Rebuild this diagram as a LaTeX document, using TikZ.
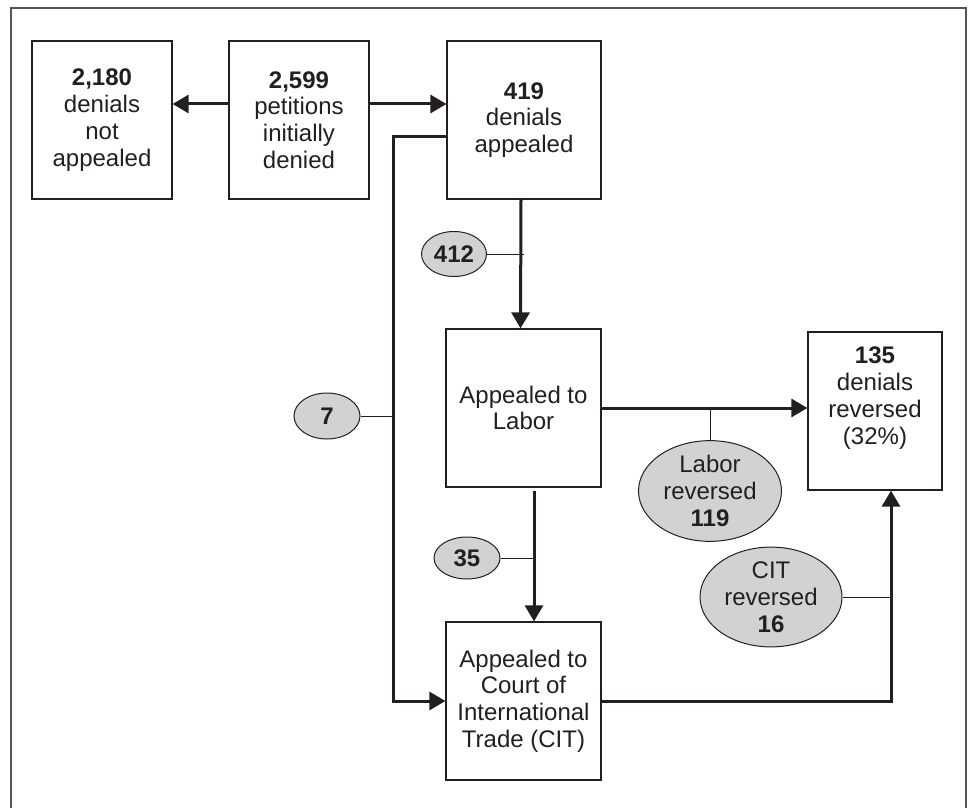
\documentclass[tikz,border=0pt]{standalone}
\usepackage{fontspec}
\setmainfont{Liberation Sans}
\usetikzlibrary{arrows.meta,shapes.geometric,calc}
\definecolor{ink}{HTML}{231F20}
\definecolor{bubble}{HTML}{D1D2D4}
\definecolor{framec}{HTML}{555555}
\begin{document}
\begin{tikzpicture}[x=1pt,y=-1pt,
  every node/.style={text=ink, font=\fontsize{24}{26.8}\selectfont},
  box/.style={draw=ink, line width=1.2pt, align=center, inner sep=0pt, fill=white},
  bub/.style={ellipse, draw=ink, line width=1pt, fill=bubble, align=center, inner sep=0pt},
  arr/.style={draw=ink, line width=3pt, -{Triangle[length=16pt,width=18pt]}},
  stem/.style={draw=ink, line width=1pt}]
\useasboundingbox (0,0) rectangle (970,808);
\draw[framec, line width=2pt] (11,808) -- (11,8) -- (966,8) -- (966,808);

% boxes
\node[box, minimum width=140pt, minimum height=158pt] (b2180) at (102,120) {\textbf{2,180}\\denials\\not\\appealed};
\node[box, minimum width=140pt, minimum height=158pt] (b2599) at (299,120) {\textbf{2,599}\\petitions\\initially\\denied};
\node[box, minimum width=154pt, minimum height=158pt] (b419) at (524,120) {\textbf{419}\\denials\\appealed};
\node[box, minimum width=155pt, minimum height=158pt] (labor) at (523.5,408) {Appealed to\\Labor};
\node[box, minimum width=134pt, minimum height=158pt] (b135) at (875,411) {};
\node (t135) at (875,398) [align=center] {\textbf{135}\\denials\\reversed\\(32\%)};
\node[box, minimum width=155pt, minimum height=158pt] (cit) at (523.5,701) {Appealed to\\Court of\\International\\Trade (CIT)};

% bubbles
\node[bub, minimum width=65pt, minimum height=45pt] (e412) at (454,254) {\textbf{412}};
\node[bub, minimum width=66pt, minimum height=46pt] (e7) at (327,416) {\textbf{7}};
\node[bub, minimum width=66pt, minimum height=42pt] (e35) at (467,558) {\textbf{35}};
\node[bub, minimum width=143pt, minimum height=99pt] (eLab) at (710,491) {Labor\\reversed\\\textbf{119}};
\node[bub, minimum width=142pt, minimum height=99pt] (eCIT) at (771,597) {CIT\\reversed\\\textbf{16}};

% helper coordinates
\coordinate (vx) at (393,136);
\coordinate (ax) at (534,0);
\coordinate (ux) at (891,0);

% connectors
\draw[arr] ([yshift=16pt]b2599.west) -- ([yshift=16pt]b2180.east);
\draw[arr] ([yshift=16pt]b2599.east) -- ([yshift=16pt]b419.west);
\draw[arr] ([yshift=-16pt]b419.west) -| (vx |- cit.west) -- (cit.west);
\draw[arr] ([xshift=-3pt]b419.south) -- ([xshift=-3pt]labor.north);
\draw[arr] ($(labor.south -| ax)+(0,3)$) -- (ax |- cit.north);
\draw[arr] (labor.east) -- (labor.east -| b135.west);
\draw[arr] (cit.east) -| (ux |- b135.south);

% stems
\draw[stem] (e412.east) -- (e412.east -| b419.south);
\draw[stem] (e7.east) -- (e7.east -| vx);
\draw[stem] (e35.east) -- (e35.east -| ax);
\draw[stem] (eLab.north) -- (eLab.north |- labor.east);
\draw[stem] (eCIT.east) -- (eCIT.east -| ux);
\end{tikzpicture}
\end{document}
